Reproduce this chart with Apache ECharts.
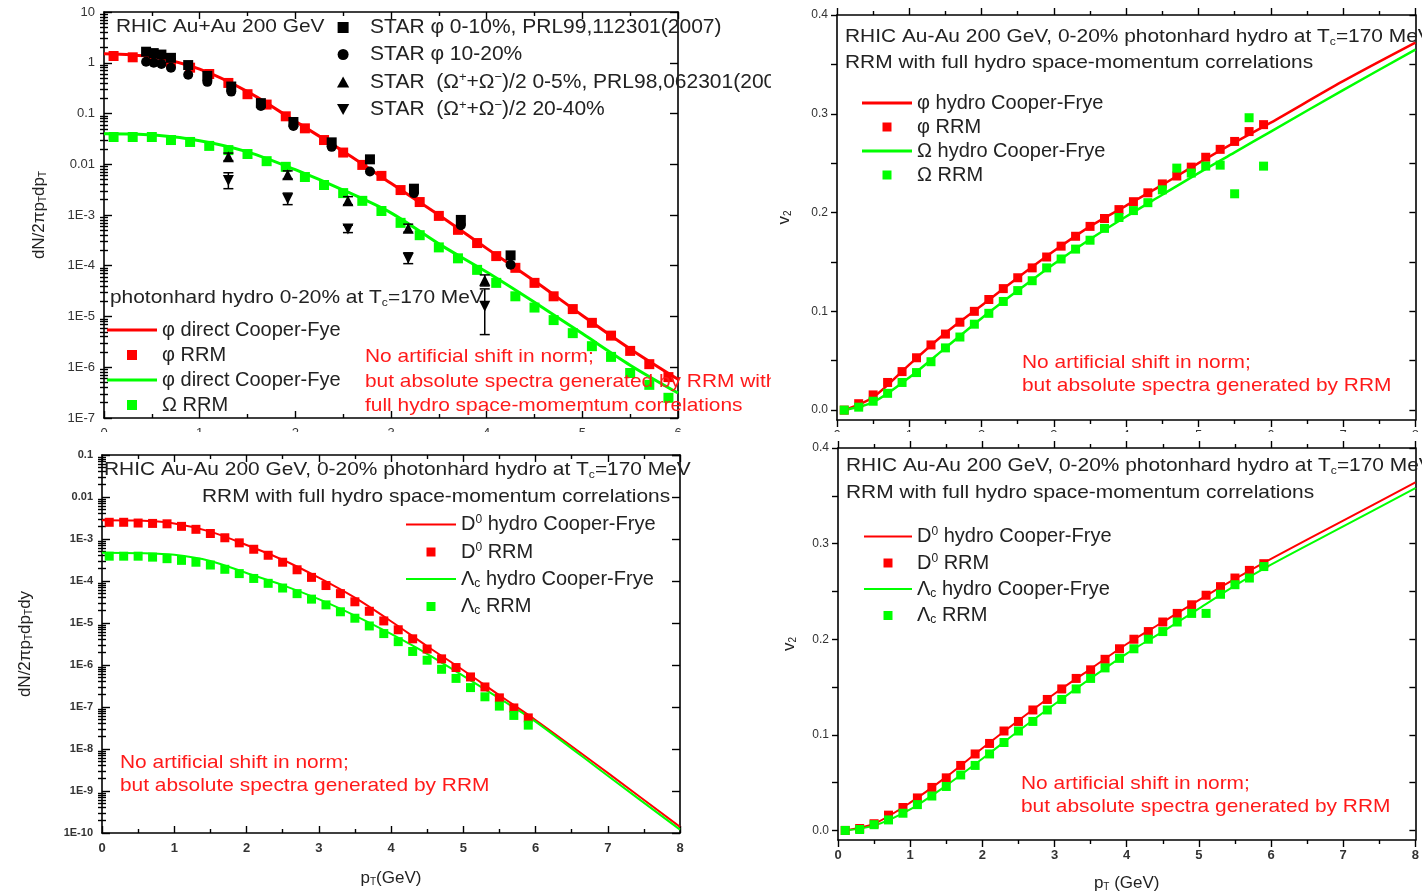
<!DOCTYPE html>
<html><head><meta charset="utf-8">
<script src="https://cdn.jsdelivr.net/npm/echarts@6/dist/echarts.min.js"></script>
<style>html,body{margin:0;padding:0;background:#fff}#c{width:1422px;height:896px}</style>
</head><body><div id="c"></div>
<script>
// ================= DATA =================
const rrmPt = [0.1,0.3,0.5,0.7,0.9,1.1,1.3,1.5,1.7,1.9,2.1,2.3,2.5,2.7,2.9,3.1,3.3,3.5,3.7,3.9,4.1,4.3,4.5,4.7,4.9,5.1,5.3,5.5,5.7,5.9];

// top-left: phi / Omega spectra
const tlCurvePt  = [0,0.5,1,1.5,2,2.5,3,3.5,4,4.5,5,5.5,6];
const tlPhiCF    = [1.5,1.3,0.75,0.27,0.07,0.018,0.0042,0.001,2.2e-4,5e-5,1.05e-5,2.3e-6,5.8e-7];
const tlOmegaCF  = [0.040,0.038,0.029,0.0175,0.0078,0.0031,0.0011,2.7e-4,7.5e-5,1.9e-5,4.6e-6,1.1e-6,3.1e-7];
const tlPhiRRM   = [1.36,1.28,1.15,1.0,0.8,0.6,0.4,0.24,0.15,0.088,0.051,0.030,0.017,0.0097,0.0059,0.0031,0.0018,9.6e-4,5.1e-4,2.8e-4,1.55e-4,9.1e-5,4.6e-5,2.5e-5,1.4e-5,7.5e-6,4.2e-6,2.1e-6,1.15e-6,6.4e-7];
const tlOmegaRRM = [0.0344,0.0344,0.0344,0.030,0.0275,0.023,0.019,0.0159,0.0115,0.0089,0.0056,0.0039,0.0027,0.0019,0.0012,7e-4,4.0e-4,2.3e-4,1.4e-4,8.3e-5,4.6e-5,2.5e-5,1.5e-5,8.5e-6,4.7e-6,2.6e-6,1.6e-6,7.7e-7,4.5e-7,2.5e-7];

const starPhiPt   = [0.44,0.52,0.6,0.7,0.88,1.08,1.33,1.64,1.98,2.38,2.78,3.24,3.73,4.25];
const starPhi0010 = [1.65,1.55,1.45,1.25,0.9,0.55,0.34,0.16,0.068,0.027,0.0125,0.0033,8.0e-4,1.6e-4];
const starPhi1020 = [1.05,1.0,0.95,0.8,0.58,0.42,0.27,0.14,0.057,0.022,0.0072,0.0027,6.3e-4,1.05e-4];
const starOmegaPt   = [1.3,1.92,2.55,3.18,3.98];
const starOm0005    = [0.014,0.0062,0.0019,5.5e-4,5.2e-5];
const starOm0005Lo  = [0.0118,0.0052,0.0016,4.6e-4,4.0e-5];
const starOm0005Hi  = [0.0166,0.0074,0.0023,6.6e-4,6.6e-5];
const starOm2040    = [0.0048,0.0021,5.3e-4,1.4e-4,1.6e-5];
const starOm2040Lo  = [0.0033,0.0016,4.5e-4,1.1e-4,4.4e-6];
const starOm2040Hi  = [0.0068,0.0027,6.3e-4,1.8e-4,3.5e-5];

// top-right: phi / Omega v2
const v2CurvePt   = [0.1,0.5,1,1.5,2,2.5,3,3.5,4,4.5,5,5.5,6,7,8];
const trPhiCF     = [0.0,0.013,0.046,0.078,0.106,0.134,0.161,0.186,0.207,0.228,0.250,0.271,0.291,0.333,0.372];
const trOmegaCF   = [0.0,0.008,0.033,0.063,0.093,0.121,0.148,0.173,0.196,0.218,0.240,0.261,0.282,0.324,0.365];
const trPhiRRM    = [0.0,0.0065,0.0154,0.028,0.039,0.053,0.066,0.077,0.089,0.100,0.112,0.123,0.134,0.144,0.155,0.166,0.176,0.186,0.194,0.203,0.211,0.220,0.229,0.237,0.246,0.256,0.264,0.272,0.282,0.289];
const trOmegaRRM  = [0.0,0.003,0.009,0.017,0.028,0.038,0.049,0.063,0.074,0.087,0.098,0.110,0.121,0.131,0.144,0.153,0.163,0.172,0.184,0.195,0.202,0.210,0.223,0.245,0.240,0.247,0.248,0.219,0.296,0.247];

// bottom-left: D0 / Lambda_c spectra
const blCurvePt = [0,0.5,1,1.5,2,2.5,3,3.5,4,4.5,5,5.5,6,7,8];
const blD0CF    = [2.8e-3,2.75e-3,2.35e-3,1.5e-3,7.2e-4,3.2e-4,1.2e-4,4.0e-5,1.1e-5,2.8e-6,7.5e-7,1.9e-7,4.9e-8,2.7e-9,1.4e-10];
const blLcCF    = [4.7e-4,4.6e-4,4.2e-4,3.0e-4,1.55e-4,8.0e-5,3.7e-5,1.5e-5,5.5e-6,1.85e-6,5.5e-7,1.6e-7,4.5e-8,2.3e-9,1.2e-10];
const blD0RRM   = [2.5e-3,2.5e-3,2.4e-3,2.35e-3,2.3e-3,2.0e-3,1.7e-3,1.35e-3,1.07e-3,8.1e-4,5.7e-4,4.1e-4,2.8e-4,1.85e-4,1.22e-4,7.8e-5,5.0e-5,3.2e-5,1.9e-5,1.12e-5,6.9e-6,4.2e-6,2.4e-6,1.4e-6,8.7e-7,5.2e-7,3.0e-7,1.65e-7,9.5e-8,5.5e-8];
const blLcRRM   = [3.9e-4,3.9e-4,3.9e-4,3.7e-4,3.4e-4,3.1e-4,2.8e-4,2.4e-4,1.9e-4,1.5e-4,1.15e-4,8.8e-5,6.8e-5,5.0e-5,3.7e-5,2.7e-5,1.85e-5,1.3e-5,8.5e-6,5.6e-6,3.6e-6,2.1e-6,1.3e-6,7.9e-7,4.8e-7,2.9e-7,1.75e-7,1.05e-7,6.3e-8,3.7e-8];

// bottom-right: D0 / Lambda_c v2
const brD0CF  = [0.0,0.007,0.029,0.056,0.086,0.115,0.143,0.169,0.195,0.218,0.241,0.263,0.284,0.324,0.364];
const brLcCF  = [0.0,0.005,0.022,0.047,0.075,0.104,0.132,0.159,0.185,0.208,0.232,0.256,0.278,0.318,0.358];
const brD0RRM = [0.0,0.002,0.007,0.016,0.024,0.034,0.045,0.055,0.068,0.080,0.091,0.104,0.114,0.126,0.137,0.148,0.159,0.168,0.179,0.190,0.200,0.208,0.218,0.227,0.236,0.246,0.255,0.264,0.272,0.279];
const brLcRRM = [0.0,0.001,0.006,0.011,0.018,0.027,0.036,0.046,0.058,0.068,0.080,0.092,0.104,0.114,0.126,0.137,0.148,0.159,0.170,0.180,0.190,0.200,0.208,0.218,0.227,0.227,0.247,0.257,0.264,0.276];

// tick labels
const tlYTickLabels = ['1E-7','1E-6','1E-5','1E-4','1E-3','0.01','0.1','1','10'];
const blYTickLabels = ['1E-10','1E-9','1E-8','1E-7','1E-6','1E-5','1E-4','1E-3','0.01','0.1'];
const v2TickLabels  = ['0.0','0.1','0.2','0.3','0.4'];
const v2LabelValues = [0,0.1,0.2,0.3,0.4];
const v2TickValues  = [0,0.05,0.1,0.15,0.2,0.25,0.3,0.35,0.4];
const ptTickLabels  = ['0','1','2','3','4','5','6','7','8'];

// ================= HELPERS =================
const FONT = '"Liberation Sans", Arial, Helvetica, sans-serif';
const TXT = '#222';
const RED = '#ff0000', GRN = '#00ff00', ANN = '#ff1a1a';
const zip = (xs, ys) => xs.map((x, i) => [x, ys[i]]);
function richSet(fs, color) {
  const s = Math.round(fs * 0.6);
  return {
    t: {fontSize: fs, fontFamily: FONT, color: color, fill: color, lineHeight: fs + 1},
    b: {fontSize: s, fontFamily: FONT, color: color, fill: color, lineHeight: s + 1, verticalAlign: 'bottom'},
    p: {fontSize: s, fontFamily: FONT, color: color, fill: color, lineHeight: s + 1, verticalAlign: 'top'}
  };
}
function logMinors(e0, e1) {
  const out = [];
  for (let e = e0; e < e1; e++) for (let m = 2; m <= 9; m++) out.push(+(m * Math.pow(10, e)).toPrecision(3));
  return out;
}
const AXL = {show: true, onZero: false, lineStyle: {color: '#000', width: 1.6}};
const TICKSTYLE = {color: '#000', width: 1.4};

function xAxis(grid, max, pos, inside, labels, bold, name, nameGap) {
  return {
    type: 'value', gridIndex: grid, min: 0, max: max, interval: 1, position: pos,
    axisLine: AXL,
    axisTick: {show: true, inside: inside, length: 7, lineStyle: TICKSTYLE},
    minorTick: {show: true, splitNumber: 2, length: 4, lineStyle: TICKSTYLE},
    axisLabel: {show: labels, formatter: v => ptTickLabels[Math.round(v)], fontSize: 13, color: '#333',
      fontFamily: FONT, fontWeight: bold ? 'bold' : 'normal', margin: 9},
    splitLine: {show: false},
    name: name || '', nameLocation: 'middle', nameGap: nameGap || 30,
    nameTextStyle: {fontSize: 17, fontFamily: FONT, color: TXT, rich: richSet(17, TXT)}
  };
}
function logYAxis(grid, e0, e1, pos, labels, tickLabels, fs, bold, name, nameGap) {
  return {
    type: 'log', logBase: 10, gridIndex: grid, min: Math.pow(10, e0), max: Math.pow(10, e1), position: pos,
    axisLine: AXL,
    axisTick: {show: true, inside: true, length: 8, lineStyle: TICKSTYLE},
    minorTick: {show: false},
    axisLabel: {show: labels, formatter: v => tickLabels[Math.round(Math.log10(v)) - e0],
      fontSize: fs, color: '#333', fontFamily: FONT, fontWeight: bold ? 'bold' : 'normal', margin: 9},
    splitLine: {show: false},
    name: name || '', nameLocation: 'middle', nameRotate: 90, nameGap: nameGap || 50,
    nameTextStyle: {fontSize: 17, fontFamily: FONT, color: TXT, rich: richSet(17, TXT)}
  };
}
function logMinorAxis(grid, e0, e1, pos) {
  return {
    type: 'log', logBase: 10, gridIndex: grid, min: Math.pow(10, e0), max: Math.pow(10, e1), position: pos,
    axisLine: {show: false},
    axisTick: {show: true, inside: true, length: 4, lineStyle: TICKSTYLE, customValues: logMinors(e0, e1)},
    axisLabel: {show: false}, splitLine: {show: false}
  };
}
function v2YAxis(grid, pos, labels, inside, name, nameGap) {
  return {
    type: 'value', gridIndex: grid, min: -0.01, max: 0.4, position: pos,
    axisLine: AXL,
    axisTick: {show: true, inside: inside, length: 6, lineStyle: TICKSTYLE, customValues: v2TickValues},
    axisLabel: {show: labels, customValues: v2LabelValues, formatter: v => v2TickLabels[Math.round(v * 10)],
      fontSize: 12, color: '#333', fontFamily: FONT, margin: 9},
    splitLine: {show: false},
    name: name || '', nameLocation: 'middle', nameRotate: 90, nameGap: nameGap || 40,
    nameTextStyle: {fontSize: 17, fontFamily: FONT, color: TXT, rich: richSet(17, TXT)}
  };
}
function lineS(name, xi, yi, xs, ys, color, w) {
  return {name: name, type: 'line', xAxisIndex: xi, yAxisIndex: yi, data: zip(xs, ys), symbol: 'none',
    smooth: 0.3, lineStyle: {color: color, width: w}, itemStyle: {color: color}, z: 2, silent: true};
}
function dotS(name, xi, yi, xs, ys, color, symbol, size) {
  return {name: name, type: 'scatter', xAxisIndex: xi, yAxisIndex: yi, data: zip(xs, ys), symbol: symbol,
    symbolSize: size, itemStyle: {color: color, opacity: 1}, z: 3, silent: true};
}
function errS(xi, yi, xs, lo, hi) {
  return {type: 'custom', xAxisIndex: xi, yAxisIndex: yi, z: 4, silent: true,
    data: xs.map((x, i) => [x, lo[i], hi[i]]), encode: {x: 0, y: [1, 2]},
    renderItem: (params, api) => {
      const a = api.coord([api.value(0), api.value(1)]);
      const b = api.coord([api.value(0), api.value(2)]);
      const w = 5, st = {stroke: '#000', lineWidth: 1.5};
      return {type: 'group', children: [
        {type: 'line', shape: {x1: a[0], y1: a[1], x2: b[0], y2: b[1]}, style: st},
        {type: 'line', shape: {x1: a[0] - w, y1: a[1], x2: a[0] + w, y2: a[1]}, style: st},
        {type: 'line', shape: {x1: b[0] - w, y1: b[1], x2: b[0] + w, y2: b[1]}, style: st}]};
    }};
}

const SQ = 'path://M0,0L10,0L10,10L0,10Z';
const CIRC = 'path://M5,0A5,5,0,1,1,5,10A5,5,0,1,1,5,0Z';
const TRI = 'path://M5,0L10,9L0,9Z';
const ITRI = 'path://M0,0L10,0L5,9Z';
const BAR3 = 'path://M0,0L50,0L50,3L0,3Z';
const BAR2 = 'path://M0,0L50,0L50,2L0,2Z';

const LABEL = {
  starPhi0010: '{t|STAR φ 0-10%, PRL99,112301(2007)}',
  starPhi1020: '{t|STAR φ 10-20%}',
  starOm0005: '{t|STAR  (Ω}{p|+}{t|+Ω}{p|−}{t|)/2 0-5%, PRL98,062301(2007)}',
  starOm2040: '{t|STAR  (Ω}{p|+}{t|+Ω}{p|−}{t|)/2 20-40%}',
  tlPhiCF: '{t|φ direct Cooper-Fye}', tlPhiRRM: '{t|φ RRM}',
  tlOmCF: '{t|φ direct Cooper-Fye}', tlOmRRM: '{t|Ω RRM}',
  trPhiCF: '{t|φ hydro Cooper-Frye}', trPhiRRM: '{t|φ RRM}',
  trOmCF: '{t|Ω hydro Cooper-Frye}', trOmRRM: '{t|Ω RRM}',
  blD0CF: '{t|D}{p|0}{t| hydro Cooper-Frye}', blD0RRM: '{t|D}{p|0}{t| RRM}',
  blLcCF: '{t|Λ}{b|c}{t| hydro Cooper-Frye}', blLcRRM: '{t|Λ}{b|c}{t| RRM}',
  brD0CF: '{t|D}{p|0}{t| hydro Cooper-Frye}', brD0RRM: '{t|D}{p|0}{t| RRM}',
  brLcCF: '{t|Λ}{b|c}{t| hydro Cooper-Frye}', brLcRRM: '{t|Λ}{b|c}{t| RRM}'
};
function legend(left, top, iw, ih, gap, items, fs) {
  fs = fs || 20;
  return {left: left, top: top, orient: 'vertical', itemWidth: iw, itemHeight: ih, itemGap: gap,
    selectedMode: false, padding: 0, data: items.map(it => ({name: it[0], icon: it[1]})),
    formatter: n => LABEL[n],
    textStyle: {fontSize: fs, fontFamily: FONT, color: TXT, rich: richSet(fs, TXT)}};
}
function gText(x, y, str, fs, color, sx) {
  return {type: 'text', x: x, y: y, scaleX: sx || 1.1, z: 60,
    style: {text: str, rich: richSet(fs, color), fill: color, fontSize: fs, fontFamily: FONT, verticalAlign: 'middle', align: 'left'}};
}
function gBlock(x, y, str, fs, color, lh, sx) {
  return {type: 'text', x: x, y: y, scaleX: sx || 1.1, z: 60,
    style: {text: str, fill: color, font: fs + 'px ' + FONT, lineHeight: lh, verticalAlign: 'top', align: 'left'}};
}
function cover(x, y, w, h) {
  return {type: 'rect', z: 100, shape: {x: x, y: y, width: w, height: h}, style: {fill: '#fff'}};
}

// ================= OPTION =================
const option = {
  backgroundColor: '#fff',
  animation: false,
  grid: [
    {left: 104, top: 12, width: 574, height: 406},
    {left: 837, top: 15, width: 584, height: 405},
    {left: 102, top: 455, width: 578, height: 378},
    {left: 838, top: 448, width: 583, height: 392}
  ],
  xAxis: [
    xAxis(0, 6, 'bottom', true, true, false),
    xAxis(0, 6, 'top', true, false, false),
    xAxis(1, 8, 'bottom', false, true, false),
    xAxis(1, 8, 'top', false, false, false),
    xAxis(2, 8, 'bottom', true, true, true, '{t|p}{b|T}{t|(GeV)}', 36),
    xAxis(2, 8, 'top', true, false, true),
    xAxis(3, 8, 'bottom', false, true, true, '{t|p}{b|T}{t| (GeV)}', 34),
    xAxis(3, 8, 'top', false, false, true)
  ],
  yAxis: [
    logYAxis(0, -7, 1, 'left', true, tlYTickLabels, 13, false, '{t|dN/2πp}{b|T}{t|dp}{b|T}', 56),
    logYAxis(0, -7, 1, 'right', false, tlYTickLabels, 13, false),
    logMinorAxis(0, -7, 1, 'left'),
    logMinorAxis(0, -7, 1, 'right'),
    v2YAxis(1, 'left', true, false, '{t|v}{b|2}', 44),
    v2YAxis(1, 'right', false, true),
    logYAxis(2, -10, -1, 'left', true, blYTickLabels, 11, true, '{t|dN/2πp}{b|T}{t|dp}{b|T}{t|dy}', 68),
    logYAxis(2, -10, -1, 'right', false, blYTickLabels, 11, true),
    logMinorAxis(2, -10, -1, 'left'),
    logMinorAxis(2, -10, -1, 'right'),
    v2YAxis(3, 'left', true, false, '{t|v}{b|2}', 40),
    v2YAxis(3, 'right', false, true)
  ],
  legend: [
    // icon box is 44 wide and the 11px icon is centred: the box's left blank (16.5px) is not counted by the layout
    legend(337, 17, 44, 11, 6, [['starPhi0010', SQ], ['starPhi1020', CIRC], ['starOm0005', TRI], ['starOm2040', ITRI]], 21),
    legend(107, 320, 50, 10, 5, [['tlPhiCF', BAR3], ['tlPhiRRM', SQ], ['tlOmCF', BAR3], ['tlOmRRM', SQ]]),
    legend(862, 93, 50, 9, 4, [['trPhiCF', BAR3], ['trPhiRRM', SQ], ['trOmCF', BAR3], ['trOmRRM', SQ]]),
    legend(406, 514, 50, 9, 7, [['blD0CF', BAR2], ['blD0RRM', SQ], ['blLcCF', BAR2], ['blLcRRM', SQ]]),
    legend(864, 526, 48, 9, 6, [['brD0CF', BAR2], ['brD0RRM', SQ], ['brLcCF', BAR2], ['brLcRRM', SQ]])
  ],
  series: [
    // top-left
    lineS('tlPhiCF', 0, 0, tlCurvePt, tlPhiCF, RED, 3),
    lineS('tlOmCF', 0, 0, tlCurvePt, tlOmegaCF, GRN, 3),
    dotS('tlPhiRRM', 0, 0, rrmPt, tlPhiRRM, RED, 'rect', 10),
    dotS('tlOmRRM', 0, 0, rrmPt, tlOmegaRRM, GRN, 'rect', 10),
    errS(0, 0, starOmegaPt, starOm0005Lo, starOm0005Hi),
    errS(0, 0, starOmegaPt, starOm2040Lo, starOm2040Hi),
    dotS('starPhi0010', 0, 0, starPhiPt, starPhi0010, '#000', 'rect', 10),
    dotS('starPhi1020', 0, 0, starPhiPt, starPhi1020, '#000', 'circle', 10),
    dotS('starOm0005', 0, 0, starOmegaPt, starOm0005, '#000', 'triangle', 11),
    dotS('starOm2040', 0, 0, starOmegaPt, starOm2040, '#000', ITRI, 11),
    // top-right
    lineS('trPhiCF', 2, 4, v2CurvePt, trPhiCF, RED, 2.5),
    lineS('trOmCF', 2, 4, v2CurvePt, trOmegaCF, GRN, 2.5),
    dotS('trPhiRRM', 2, 4, rrmPt, trPhiRRM, RED, 'rect', 9),
    dotS('trOmRRM', 2, 4, rrmPt, trOmegaRRM, GRN, 'rect', 9),
    // bottom-left
    lineS('blD0CF', 4, 6, blCurvePt, blD0CF, RED, 2),
    lineS('blLcCF', 4, 6, blCurvePt, blLcCF, GRN, 2),
    dotS('blD0RRM', 4, 6, rrmPt, blD0RRM, RED, 'rect', 9),
    dotS('blLcRRM', 4, 6, rrmPt, blLcRRM, GRN, 'rect', 9),
    // bottom-right
    lineS('brD0CF', 6, 10, v2CurvePt, brD0CF, RED, 2),
    lineS('brLcCF', 6, 10, v2CurvePt, brLcCF, GRN, 2),
    dotS('brD0RRM', 6, 10, rrmPt, brD0RRM, RED, 'rect', 9),
    dotS('brLcRRM', 6, 10, rrmPt, brLcRRM, GRN, 'rect', 9)
  ],
  graphic: [
    // top-left
    gText(116, 27, '{t|RHIC Au+Au 200 GeV}', 19, TXT),
    gText(110, 298, '{t|photonhard hydro 0-20% at T}{b|c}{t|=170 MeV}', 19, TXT),
    gBlock(365, 345, 'No artificial shift in norm;\nbut absolute spectra generated by RRM with\nfull hydro space-momemtum correlations', 19, ANN, 24.5),
    // top-right
    gText(845, 37, '{t|RHIC Au-Au 200 GeV, 0-20% photonhard hydro at T}{b|c}{t|=170 MeV}', 19, TXT),
    gText(845, 63, '{t|RRM with full hydro space-momentum correlations}', 19, TXT),
    gBlock(1022, 351, 'No artificial shift in norm;\nbut absolute spectra generated by RRM', 19, ANN, 23),
    // bottom-left
    gText(104, 470, '{t|RHIC Au-Au 200 GeV, 0-20% photonhard hydro at T}{b|c}{t|=170 MeV}', 19, TXT),
    gText(202, 497, '{t|RRM with full hydro space-momentum correlations}', 19, TXT),
    gBlock(120, 751, 'No artificial shift in norm;\nbut absolute spectra generated by RRM', 19, ANN, 23),
    // bottom-right
    gText(846, 466, '{t|RHIC Au-Au 200 GeV, 0-20% photonhard hydro at T}{b|c}{t|=170 MeV}', 19, TXT),
    gText(846, 493, '{t|RRM with full hydro space-momentum correlations}', 19, TXT),
    gBlock(1021, 772, 'No artificial shift in norm;\nbut absolute spectra generated by RRM', 19, ANN, 23),
    // page crop edges
    cover(0, 432, 780, 14),
    cover(780, 432, 642, 9),
    cover(771, 71, 62, 26),
    cover(771, 369, 62, 24)
  ]
};
const chart = echarts.init(document.getElementById('c'), null, {renderer: 'canvas'});
chart.setOption(option);
</script>
</body></html>
